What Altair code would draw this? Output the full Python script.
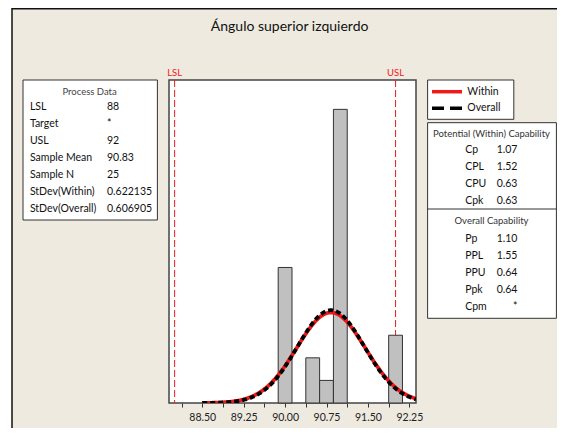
import altair as alt
import numpy as np
import pandas as pd

# ---------------- data ----------------
title_text = "Ángulo superior izquierdo"
bin_centers = [90.00, 90.50, 90.75, 91.00, 92.00]
bin_counts = [6, 2, 1, 13, 3]
bin_width = 0.25
lsl_usl_values = [88, 92]
lsl_usl_labels = ["LSL", "USL"]
sample_mean = 90.83
sd_within = 0.622135
sd_overall = 0.606905
sample_n = 25
tick_values = [88.125, 88.5, 88.875, 89.25, 89.625, 90.0, 90.375, 90.75,
               91.125, 91.5, 91.875, 92.25]
tick_labels = ["88.50", "89.25", "90.00", "90.75", "91.50", "92.25"]
process_labels = ["LSL", "Target", "USL", "Sample Mean", "Sample N",
                  "StDev(Within)", "StDev(Overall)"]
process_values = ["88", "*", "92", "90.83", "25", "0.622135", "0.606905"]
within_labels = ["Cp", "CPL", "CPU", "Cpk"]
within_values = ["1.07", "1.52", "0.63", "0.63"]
overall_labels = ["Pp", "PPL", "PPU", "Ppk", "Cpm"]
overall_values = ["1.10", "1.55", "0.64", "0.64", "*"]
legend_labels = ["Within", "Overall"]

# ---------------- layout / style ----------------
FONT = "Lato"
PW, PH = 247, 323
PAD_L, PAD_T = 161, 72
SVG_W, SVG_H = 549, 420
BEIGE = "#EEEAE0"
RED = "#F01818"

bars = pd.DataFrame({"c": bin_centers, "n": bin_counts})
bars["x0"] = bars["c"] - bin_width / 2
bars["x1"] = bars["c"] + bin_width / 2

xs = np.linspace(88.5, 92.37, 300)
def fitted(sd):
    return sample_n * bin_width * np.exp(-0.5 * ((xs - sample_mean) / sd) ** 2) / (sd * np.sqrt(2 * np.pi))
curve_w = pd.DataFrame({"x": xs, "y": fitted(sd_within)})
curve_o = pd.DataFrame({"x": xs, "y": fitted(sd_overall)})
spec = pd.DataFrame({"v": lsl_usl_values, "t": lsl_usl_labels})

xscale = alt.Scale(domain=[87.898, 92.37], nice=False, zero=False)
yscale = alt.Scale(domain=[0, 14.3], nice=False, zero=True)
label_js = "[" + ",".join("'%s'" % t for t in tick_labels) + "]"
xaxis = alt.Axis(values=tick_values,
                 labelExpr=f"indexof({label_js}, format(datum.value, '.2f')) >= 0 ? format(datum.value, '.2f') : ''",
                 tickSize=4, tickColor="#333", domain=False, grid=False,
                 labelFont=FONT, labelFontSize=10.5, labelColor="#222",
                 labelPadding=5, labelFlush=False, labelOverlap=False, title=None)

def X(field):
    return alt.X(field, type="quantitative", scale=xscale, axis=xaxis)

def Y(field):
    return alt.Y(field, type="quantitative", scale=yscale, axis=None)

one = pd.DataFrame({"k": [0]})

def box(x0, x1, y0, y1, fill="white"):
    return alt.Chart(one).mark_rect(fill=fill, stroke="#333", strokeWidth=1).encode(
        x=alt.value(x0), x2=alt.value(x1), y=alt.value(y0), y2=alt.value(y1))

def hline(x0, x1, y, color="#333", width=1, dash=None):
    kw = dict(color=color, strokeWidth=width)
    if dash:
        kw["strokeDash"] = dash
    return alt.Chart(one).mark_rule(**kw).encode(
        x=alt.value(x0), x2=alt.value(x1), y=alt.value(y))

def vline(x, y0, y1, color="#333", width=1):
    return alt.Chart(one).mark_rule(color=color, strokeWidth=width).encode(
        x=alt.value(x), y=alt.value(y0), y2=alt.value(y1))

def col_text(values, x, y0, dy, size, color="#111", align="left"):
    df = pd.DataFrame({"t": values, "i": list(range(len(values)))})
    return alt.Chart(df).transform_calculate(py=f"{y0} + datum.i * {dy}").mark_text(
        align=align, baseline="middle", font=FONT, fontSize=size, color=color
    ).encode(x=alt.value(x), y=alt.Y("py:Q", scale=None), text="t:N")

def single_text(t, x, y, size, color="#111", align="center"):
    return alt.Chart(pd.DataFrame({"t": [t]})).mark_text(
        align=align, baseline="middle", font=FONT, fontSize=size, color=color
    ).encode(x=alt.value(x), y=alt.value(y), text="t:N")

# outer frame decoration
white_strip = alt.Chart(one).mark_rect(fill="white").encode(
    x=alt.value(-PAD_L), x2=alt.value(-157.2), y=alt.value(-PAD_T), y2=alt.value(SVG_H))
left_border = vline(-157, -PAD_T, SVG_H, color="#111", width=1.5)
top_border = hline(-157, SVG_W, -71.3, color="#111", width=1.5)

# plot layers
spec_rules = alt.Chart(spec).mark_rule(color=RED, strokeWidth=1, strokeDash=[7, 3]).encode(
    x=X("v"), y=alt.value(0), y2=alt.value(PH))
spec_text = alt.Chart(spec).mark_text(color=RED, font=FONT, fontSize=9.5, baseline="middle").encode(
    x=X("v"), y=alt.value(-7), text="t:N")
bar_layer = alt.Chart(bars).mark_rect(fill="#C0C0C0", stroke="#333", strokeWidth=1).encode(
    x=X("x0"), x2="x1", y=Y("n"), y2=alt.datum(0))
line_w = alt.Chart(curve_w).mark_line(color=RED, strokeWidth=3.8, clip=True).encode(x=X("x"), y=Y("y"))
line_o = alt.Chart(curve_o).mark_line(color="black", strokeWidth=3.8, strokeDash=[5, 3], clip=True).encode(
    x=X("x"), y=Y("y"))

title_layer = single_text(title_text, 120.6, -53.3, 14, color="#111")

# process data box
pd_box = box(-146, -11.6, 0, 140)
pd_title = single_text("Process Data", -79.4, 11.7, 9.5, color="#444")
pd_lab = col_text(process_labels, -139.1, 27.3, 17, 10.5)
pd_val = col_text(process_values, -62, 27.3, 17, 10.5)

# legend box
lg_box = box(258.6, 344.8, 0, 39.3)
lg_w = hline(263, 293, 11.7, color=RED, width=3.5)
lg_o = hline(263, 293, 28.3, color="black", width=3.5, dash=[12, 6])
lg_t = col_text(legend_labels, 298.3, 11.7, 16.6, 10.5)

# capability box
cap_box = box(258.6, 387.4, 42.7, 238.3)
cap_div = hline(258.6, 387.4, 129)
cap_t1 = single_text("Potential (Within) Capability", 322.5, 54.3, 9.5, color="#333")
cap_l1 = col_text(within_labels, 296.2, 70.3, 17, 10.5)
cap_v1 = col_text(within_values, 348.4, 70.3, 17, 10.5, align="right")
cap_t2 = single_text("Overall Capability", 322.5, 140.7, 9.5, color="#333")
cap_l2 = col_text(overall_labels, 296.2, 159.3, 17, 10.5)
cap_v2 = col_text(overall_values, 348.4, 159.3, 17, 10.5, align="right")

chart = alt.layer(
    white_strip, left_border, top_border,
    spec_rules, bar_layer, line_w, line_o, spec_text,
    title_layer,
    pd_box, pd_title, pd_lab, pd_val,
    lg_box, lg_w, lg_o, lg_t,
    cap_box, cap_div, cap_t1, cap_l1, cap_v1, cap_t2, cap_l2, cap_v2,
).properties(
    width=PW, height=PH,
    autosize=alt.AutoSizeParams(type="none"),
    padding={"left": PAD_L, "top": PAD_T, "right": SVG_W - PAD_L - PW, "bottom": SVG_H - PAD_T - PH},
).configure(background=BEIGE).configure_view(fill="white", stroke="#444", strokeWidth=1.5)

chart.save("out.html", embed_options={"renderer": "svg", "actions": False})
